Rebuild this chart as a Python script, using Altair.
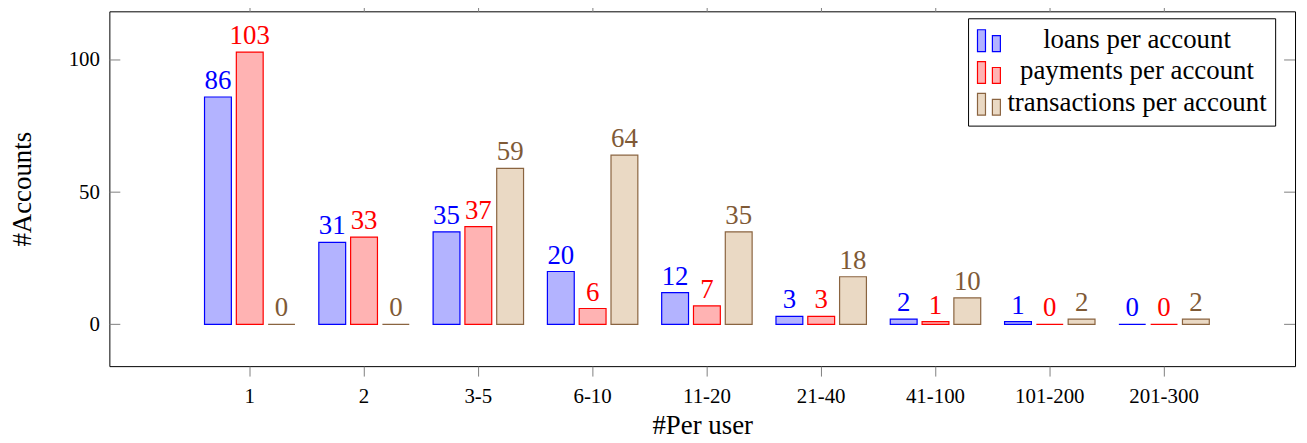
import altair as alt
import pandas as pd

categories = ["1", "2", "3-5", "6-10", "11-20", "21-40", "41-100", "101-200", "201-300"]
series_names = ["loans per account", "payments per account", "transactions per account"]
loans = [86, 31, 35, 20, 12, 3, 2, 1, 0]
payments = [103, 33, 37, 6, 7, 3, 1, 0, 0]
transactions = [0, 0, 59, 64, 35, 18, 10, 2, 2]
y_ticks = [0, 50, 100]

fill_colors = ["#b3b3ff", "#ffb3b3", "#ead9c4"]
stroke_colors = ["#0000ff", "#ff0000", "#8a6440"]
text_colors = ["#0000ff", "#ff0000", "#7f5a36"]

rows = []
for name, vals in zip(series_names, [loans, payments, transactions]):
    for c, v in zip(categories, vals):
        rows.append({"category": c, "series": name, "value": v})
df = pd.DataFrame(rows)
tick_df = pd.DataFrame({"tick": y_ticks})

FONT = "Liberation Serif"
W, H = 1193, 357

yscale = alt.Scale(domain=[-15.8, 118.4], nice=False, zero=False)
xscale = alt.Scale(domain=categories, paddingInner=0, paddingOuter=0.687, align=0.53)
offscale = alt.Scale(domain=series_names, paddingInner=0.156, paddingOuter=0.375)

icon = "M-1,-0.83 L-0.33,-0.83 L-0.33,1 L-1,1 Z M0.25,-0.33 L0.92,-0.33 L0.92,1 L0.25,1 Z"

legend_props = dict(title=None, orient="none", legendX=864, legendY=7,
                    strokeColor="black", fillColor="white",
                    padding=8, rowPadding=3, symbolType=icon,
                    symbolSize=576, symbolStrokeWidth=1.2,
                    symbolOpacity=1, labelFont=FONT,
                    labelFontSize=27, labelColor="black",
                    labelAlign="center",
                    labelOffset=135, labelLimit=400)

bars = alt.Chart(df).mark_bar(strokeWidth=1.2, opacity=1).encode(
    x=alt.X("category:N", sort=categories, scale=xscale,
            axis=alt.Axis(orient="bottom", title="#Per user", labelAngle=0,
                          labelFont=FONT, labelFontSize=21, labelColor="black",
                          tickColor="#808080", tickSize=10, domain=False,
                          labelPadding=10, titleFont=FONT, titleFontSize=27,
                          titleFontWeight="normal", titleColor="black", titlePadding=6)),
    xOffset=alt.XOffset("series:N", sort=series_names, scale=offscale),
    y=alt.Y("value:Q", scale=yscale,
            axis=alt.Axis(values=y_ticks, ticks=False, domain=False, grid=False,
                          labelFont=FONT, labelFontSize=21, labelColor="black",
                          labelPadding=10, title="#Accounts", titleFont=FONT,
                          titleFontSize=27, titleFontWeight="normal",
                          titleColor="black", titlePadding=32)),
    y2=alt.datum(0),
    fill=alt.Fill("series:N", sort=series_names,
                  scale=alt.Scale(domain=series_names, range=fill_colors),
                  legend=alt.Legend(**legend_props)),
    stroke=alt.Stroke("series:N", sort=series_names,
                      scale=alt.Scale(domain=series_names, range=stroke_colors),
                      legend=alt.Legend(**legend_props)),
)

labels = alt.Chart(df).mark_text(font=FONT, fontSize=27, baseline="alphabetic", dy=-8).encode(
    x=alt.X("category:N", sort=categories, scale=xscale,
            axis=alt.Axis(orient="top", labels=False, title=None, tickColor="#808080",
                          tickSize=10, domain=False)),
    xOffset=alt.XOffset("series:N", sort=series_names, scale=offscale),
    y=alt.Y("value:Q", scale=yscale),
    text=alt.Text("value:Q"),
    color=alt.Color("series:N", sort=series_names,
                    scale=alt.Scale(domain=series_names, range=text_colors), legend=None),
)

left_ticks = alt.Chart(tick_df).mark_rule(color="#808080", strokeWidth=1).encode(
    y=alt.Y("tick:Q", scale=yscale), x=alt.value(0), x2=alt.value(11))
right_ticks = alt.Chart(tick_df).mark_rule(color="#808080", strokeWidth=1).encode(
    y=alt.Y("tick:Q", scale=yscale), x=alt.value(W - 11), x2=alt.value(W))

chart = alt.layer(bars, labels, left_ticks, right_ticks).resolve_axis(x="independent").properties(
    width=W, height=H,
    autosize=alt.AutoSizeParams(type="none"),
    padding={"left": 102, "top": 2, "right": 4, "bottom": 76},
).configure_view(stroke="black", strokeWidth=1)

chart.save("out.html", embed_options={"renderer": "svg", "actions": False})
